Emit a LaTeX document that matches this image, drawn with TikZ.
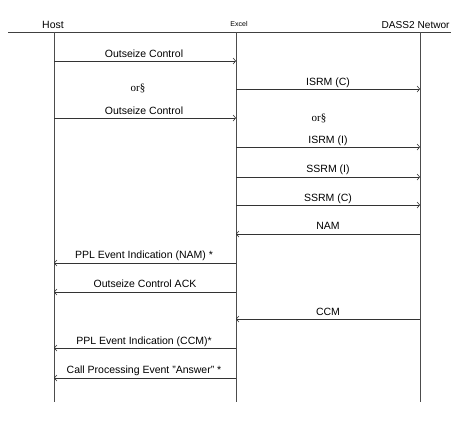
\documentclass[tikz,border=0pt]{standalone}
\usepackage{fontspec}
\setmainfont{Liberation Sans}
\newfontfamily\orfont{Liberation Serif}
\usetikzlibrary{arrows.meta}
\begin{document}
\begin{tikzpicture}[x=1pt,y=-1pt,
  lbl/.style={font=\fontsize{10.5}{12}\selectfont, inner sep=0pt, anchor=base},
  orlbl/.style={font=\orfont\fontsize{11}{12}\selectfont, inner sep=0pt, anchor=base},
  msg/.style={draw=black!80, line width=0.8pt, -{Straight Barb[length=2.5pt,width=6pt,line width=0.6pt]}},
  life/.style={draw=black!70, line width=1pt},
  head/.style={font=\fontsize{10.5}{12}\selectfont, inner sep=0pt, anchor=base}]
\useasboundingbox (0,0) rectangle (451,440);
\fill[white] (0,0) rectangle (451,440);
% header
\coordinate (topL) at (8,32);
\coordinate (topR) at (451,32);
\draw[draw=black!75, line width=1pt] (topL) -- (topR);
\node[head] (hostlbl) at (53,28) {Host};
\node[font=\fontsize{7}{8}\selectfont, inner sep=0pt, anchor=base] (excellbl) at (239,26) {Excel};
\node[head, font=\fontsize{10.1}{12}\selectfont, anchor=base west] (dasslbl) at (381.5,28) {DASS2 Networ};
% lifelines
\coordinate (H0) at (54,32);  \coordinate (H1) at (54,402);
\coordinate (E0) at (236,32); \coordinate (E1) at (236,402);
\coordinate (D0) at (420,32); \coordinate (D1) at (420,402);
\draw[life] (H0) -- (H1);
\draw[life] (E0) -- (E1);
\draw[life] (D0) -- (D1);
% messages
\coordinate (h1) at (54,61);  \coordinate (e1) at (236,61);
\draw[msg] (h1) -- (e1);
\node[lbl] (m1) at (144,57) {Outseize Control};

\node[orlbl] (or1) at (138,91) {or\S};

\coordinate (e2) at (236,89); \coordinate (d2) at (420,89);
\draw[msg] (e2) -- (d2);
\node[lbl] (m2) at (328,85) {ISRM (C)};

\coordinate (h3) at (54,118); \coordinate (e3) at (236,118);
\draw[msg] (h3) -- (e3);
\node[lbl] (m3) at (144,114) {Outseize Control};

\node[orlbl] (or2) at (319,121) {or\S};

\coordinate (e4) at (236,147); \coordinate (d4) at (420,147);
\draw[msg] (e4) -- (d4);
\node[lbl] (m4) at (328,143) {ISRM (I)};

\coordinate (e5) at (236,177); \coordinate (d5) at (420,177);
\draw[msg] (e5) -- (d5);
\node[lbl] (m5) at (328,172) {SSRM (I)};

\coordinate (e6) at (236,205); \coordinate (d6) at (420,205);
\draw[msg] (e6) -- (d6);
\node[lbl] (m6) at (328,201) {SSRM (C)};

\coordinate (d7) at (420,234); \coordinate (e7) at (236,234);
\draw[msg] (d7) -- (e7);
\node[lbl] (m7) at (328,229) {NAM};

\coordinate (e8) at (236,263); \coordinate (h8) at (54,263);
\draw[msg] (e8) -- (h8);
\node[lbl] (m8) at (144,258) {PPL Event Indication (NAM) *};

\coordinate (e9) at (236,292); \coordinate (h9) at (54,292);
\draw[msg] (e9) -- (h9);
\node[lbl] (m9) at (145,287) {Outseize Control ACK};

\coordinate (d10) at (420,319); \coordinate (e10) at (236,319);
\draw[msg] (d10) -- (e10);
\node[lbl] (m10) at (328,315) {CCM};

\coordinate (e11) at (236,348); \coordinate (h11) at (54,348);
\draw[msg] (e11) -- (h11);
\node[lbl] (m11) at (144,344) {PPL Event Indication (CCM)*};

\coordinate (e12) at (236,378); \coordinate (h12) at (54,378);
\draw[msg] (e12) -- (h12);
\node[lbl] (m12) at (144,373) {Call Processing Event "Answer" *};
\end{tikzpicture}
\end{document}
